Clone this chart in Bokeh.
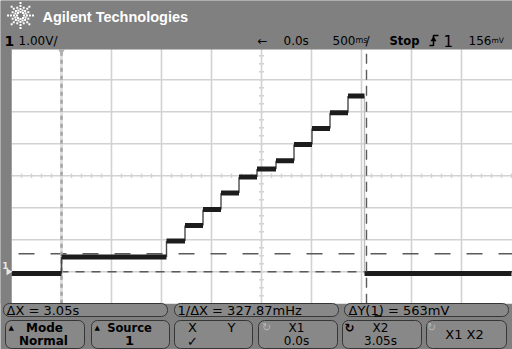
import numpy as np
from bokeh.plotting import figure
from bokeh.models import Range1d
from bokeh.core.properties import value
from bokeh.embed import file_html
from bokeh.resources import INLINE

# ---------------- data ----------------
# staircase: start time of each level (s) and level (V); trace ends at 4.5 s
step_start_s = [-0.5, 0.0, 1.05, 1.235, 1.415, 1.595, 1.775, 1.955, 2.145, 2.325, 2.505, 2.685, 2.865, 3.03]
step_volts = [-0.05, 0.46, 0.96, 1.45, 1.95, 2.46, 2.96, 3.21, 3.47, 3.98, 4.48, 4.97, 5.49, -0.05]
trace_end_s = 4.5

# cursors
x1_cursor_s = 0.0
x2_cursor_s = 3.05
y1_cursor_v = 0.0
y2_cursor_v = 0.563

# scope settings
volts_per_div = 1.0
secs_per_div = 0.5
grid_t = [0.0, 0.5, 1.0, 1.5, 2.0, 2.5, 3.0, 3.5, 4.0]
grid_v = [0.0, 1.0, 2.0, 3.0, 4.0, 5.0, 6.0]
screen_t = (-0.5, 4.5)
screen_v = (-1.0, 7.0)
center_t = 2.0
center_v = 3.0

# ---------------- layout constants (pixels) ----------------
W, H = 512, 349
X_ZERO_PX = 61.0      # t = 0 position
PX_DIV_X = 50.0
GND_PX = 271.3        # 0 V position
PX_DIV_Y = 32.0

BG = "#808080"
GRID = "#d2d2d2"

p = figure(width=W, height=H, output_backend="svg", toolbar_location=None,
           x_range=Range1d(0, W), y_range=Range1d(H, 0),
           x_axis_location=None, y_axis_location=None, min_border=0)
p.grid.visible = False
p.outline_line_color = None
p.background_fill_color = BG
p.border_fill_color = BG

t0 = (0 - X_ZERO_PX) / PX_DIV_X * secs_per_div
t1 = (W - X_ZERO_PX) / PX_DIV_X * secs_per_div
v0 = (GND_PX - H) / PX_DIV_Y * volts_per_div
v1 = (GND_PX - 0) / PX_DIV_Y * volts_per_div
p.extra_x_ranges = {"t": Range1d(t0, t1)}
p.extra_y_ranges = {"v": Range1d(v0, v1)}
S = dict(x_range_name="t", y_range_name="v")

# screen
p.quad(left=[screen_t[0]], right=[t1], bottom=[screen_v[0]], top=[screen_v[1] + 0.2],
       fill_color="white", line_color=None, **S)

# grid
p.segment(x0=grid_t, x1=grid_t, y0=[screen_v[0]] * len(grid_t), y1=[screen_v[1] + 0.2] * len(grid_t),
          line_color=GRID, line_width=1.6, **S)
p.segment(x0=[screen_t[0]] * len(grid_v), x1=[t1] * len(grid_v), y0=grid_v, y1=grid_v,
          line_color=GRID, line_width=1.4, **S)
# center ticks
tk_t = list(np.round(np.arange(screen_t[0], screen_t[1] + 1e-9, secs_per_div / 5), 3))
p.segment(x0=tk_t, x1=tk_t, y0=[center_v - 0.07] * len(tk_t), y1=[center_v + 0.07] * len(tk_t),
          line_color=GRID, line_width=1.4, **S)
tk_v = list(np.round(np.arange(screen_v[0], screen_v[1] + 1e-9, volts_per_div / 4), 3))
p.segment(x0=[center_t - 0.025] * len(tk_v), x1=[center_t + 0.025] * len(tk_v), y0=tk_v, y1=tk_v,
          line_color=GRID, line_width=1.4, **S)

# Y cursors
p.segment(x0=[screen_t[0]], x1=[t1], y0=[y2_cursor_v], y1=[y2_cursor_v],
          line_color="#5a5a5a", line_width=1.4, line_dash="16 16", line_dash_offset=-7, **S)
p.segment(x0=[screen_t[0]], x1=[t1], y0=[y1_cursor_v], y1=[y1_cursor_v],
          line_color="#5a5a5a", line_width=1.4, line_dash="9 7", **S)

# X1 cursor (inactive look)
p.segment(x0=[x1_cursor_s], x1=[x1_cursor_s], y0=[screen_v[0]], y1=[screen_v[1]],
          line_color="#dcdcdc", line_width=2.5, **S)
p.segment(x0=[x1_cursor_s], x1=[x1_cursor_s], y0=[screen_v[0]], y1=[screen_v[1]],
          line_color="#a4a4a4", line_width=2.5, line_dash="4 4", **S)

# trace: risers (thin), falling edges dim
ends = step_start_s[1:] + [trace_end_s]
r_x = step_start_s[1:]
r_y0 = step_volts[:-1]
r_y1 = step_volts[1:]
r_col = ["#4a4a4a" if b > a else "#bdbdbd" for a, b in zip(r_y0, r_y1)]
p.segment(x0=r_x, x1=r_x, y0=r_y0, y1=r_y1, line_color=r_col, line_width=1.4, **S)
# levels (thick band)
p.segment(x0=step_start_s, x1=ends, y0=step_volts, y1=step_volts,
          line_color="#1c1c1c", line_width=5, line_cap="butt", **S)

# X2 cursor (active)
p.segment(x0=[x2_cursor_s], x1=[x2_cursor_s], y0=[screen_v[0]], y1=[screen_v[1]],
          line_color="#5a5a5a", line_width=1.4, line_dash="10 6", **S)

# ---------------- header / margins ----------------
p.quad(left=[0], right=[W], top=[0], bottom=[49], fill_color=BG, line_color=None)
p.quad(left=[0], right=[11], top=[49], bottom=[303], fill_color=BG, line_color=None)

# time reference marker and ground marker
p.scatter(x=[x1_cursor_s], y=[screen_v[1] - 0.1], marker="inverted_triangle", size=7,
          fill_color="#b0b0b0", line_color=None, **S)
p.scatter(x=[-0.53], y=[0.0], marker="triangle", angle=-np.pi / 2, size=7,
          fill_color="#e6e6e6", line_color=None, **S)


def txt(x, y, s, size=12, color="black", bold=False, align="left", font="DejaVu Sans"):
    p.text(x=[x], y=[y], text=[s], text_font=value(font), text_font_size=f"{size}px",
           text_font_style="bold" if bold else "normal", text_color=color,
           text_align=align, text_baseline="middle")


txt(5, 265, "1", size=9, color="#e6e6e6", bold=True, align="center")

# logo: starburst of dots
lx, ly = [], []
for k in range(8):
    a = k * np.pi / 4
    for r in (3.5, 6.5, 9.5, 12.5):
        lx.append(20 + r * np.cos(a))
        ly.append(15 + r * np.sin(a))
    a2 = a + np.pi / 8
    for r in (5.5, 8.5):
        lx.append(20 + r * np.cos(a2))
        ly.append(15 + r * np.sin(a2))
p.scatter(x=lx, y=ly, marker="square", size=2, fill_color="white", line_color=None)

txt(42, 16, "Agilent Technologies", size=14.5, color="white", bold=True, font="Liberation Sans")

# status line
txt(4, 40, "1", size=14, bold=True)
txt(18, 40, "1.00V/", size=12)
txt(257, 40, "←", size=12)
txt(283, 40, "0.0s", size=12)
txt(332, 40, "500", size=12)
txt(355, 40, "ms", size=8)
txt(365, 40, "/", size=12)
txt(389, 40, "Stop", size=11.5, bold=True)
p.multi_line(xs=[[429, 433, 433, 438]], ys=[[45, 45, 35, 35]], line_color="black", line_width=1.5)
p.scatter(x=[433], y=[39], marker="triangle", size=6, fill_color="black", line_color=None)
txt(443, 40, "1", size=15)
txt(468, 40, "156", size=12)
txt(491, 40, "mV", size=7.5)

# ---------------- footer ----------------
BOX_FILL = "#888888"
BOX_LINE = "#363636"
p.quad(left=[3, 174, 344], right=[167, 338, 508], top=[303, 303, 303], bottom=[316, 316, 316],
       fill_color=BOX_FILL, line_color=BOX_LINE, line_width=1, border_radius=6)
kl = [5, 91, 174, 258, 342, 426]
kr = [84, 169, 252, 337, 421, 506]
p.quad(left=kl, right=kr, top=[320] * 6, bottom=[348] * 6,
       fill_color=BOX_FILL, line_color=BOX_LINE, line_width=1, border_radius=6)

txt(6, 309.5, "ΔX = 3.05s", size=13)
txt(177, 309.5, "1/ΔX = 327.87mHz", size=13)
txt(348, 309.5, "ΔY(1) = 563mV", size=13)
p.segment(x0=[374], x1=[381], y0=[315.5], y1=[315.5], line_color="black", line_width=1.5)

txt(8, 327, "▲", size=7)
txt(44, 327, "Mode", size=12, bold=True, align="center")
txt(43, 340, "Normal", size=12, bold=True, align="center")
txt(94, 327, "▲", size=7)
txt(129, 327, "Source", size=11.5, bold=True, align="center")
txt(129, 340, "1", size=13, bold=True, align="center")
txt(192, 327, "X", size=13, align="center")
txt(231, 327, "Y", size=13, align="center")
txt(192, 341, "✓", size=13, align="center")
txt(266, 327, "↻", size=11, color="#b4b4b4", align="center")
txt(296, 327, "X1", size=12, align="center")
txt(296, 340, "0.0s", size=12, align="center")
txt(349, 327, "↻", size=12, bold=True, align="center")
txt(380, 327, "X2", size=12, align="center")
txt(380, 340, "3.05s", size=12, align="center")
txt(431, 327, "↻", size=11, color="#b4b4b4", align="center")
txt(464, 334, "X1 X2", size=13, align="center")

open("out.html", "w").write(file_html(p, INLINE))
